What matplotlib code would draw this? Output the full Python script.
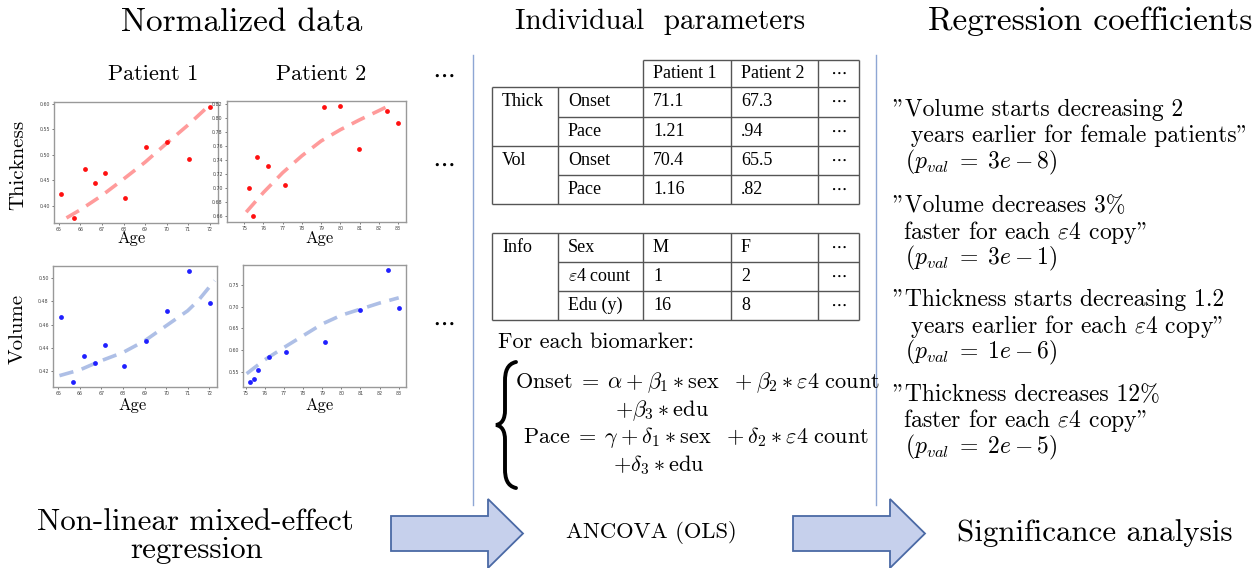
import matplotlib
matplotlib.use("Agg")
import matplotlib.pyplot as plt
from matplotlib.patches import FancyArrow, PathPatch
from matplotlib.path import Path

plt.rcParams['mathtext.fontset'] = 'cm'
plt.rcParams['axes.formatter.use_mathtext'] = True

# ---------------- data ----------------
age_p1 = [65.11, 65.68, 66.2, 66.68, 67.16, 68.05, 69.06, 70.04, 71.05, 72.03]
thick_p1 = [0.422, 0.376, 0.471, 0.445, 0.463, 0.414, 0.515, 0.525, 0.491, 0.593]
vol_p1 = [0.4663, 0.4108, 0.4330, 0.4272, 0.4422, 0.4243, 0.4456, 0.4721, 0.5060, 0.4784]

age_p2_thick = [75.24, 75.45, 75.64, 76.23, 77.14, 79.17, 79.97, 80.95, 82.43, 83.02]
thick_p2 = [0.700, 0.660, 0.744, 0.732, 0.705, 0.815, 0.817, 0.755, 0.810, 0.792]
age_p2_vol = [75.24, 75.43, 75.64, 76.22, 77.10, 79.17, 80.95, 82.43, 83.02]
vol_p2 = [0.5278, 0.5339, 0.5538, 0.5837, 0.596, 0.619, 0.691, 0.783, 0.697]

fit_age_thick_p1 = [65.35, 66.0, 67.0, 68.0, 69.0, 70.0, 71.0, 72.0]
fit_thick_p1 = [0.376, 0.392, 0.420, 0.452, 0.485, 0.522, 0.558, 0.597]
fit_age_thick_p2 = [75.1, 76.0, 77.0, 78.0, 79.0, 80.0, 81.0, 82.0, 82.75]
fit_thick_p2 = [0.666, 0.694, 0.722, 0.746, 0.767, 0.783, 0.797, 0.810, 0.820]
fit_age_vol_p1 = [65.05, 66.0, 67.0, 68.0, 69.0, 70.0, 71.0, 71.5, 72.25]
fit_vol_p1 = [0.416, 0.421, 0.429, 0.436, 0.446, 0.459, 0.472, 0.481, 0.498]
fit_age_vol_p2 = [75.05, 76.0, 77.0, 78.0, 79.0, 80.0, 81.0, 82.0, 83.0]
fit_vol_p2 = [0.546, 0.578, 0.606, 0.633, 0.660, 0.680, 0.694, 0.708, 0.720]

xticks_p1 = [65, 66, 67, 68, 69, 70, 71, 72]
xticks_p2 = [75, 76, 77, 78, 79, 80, 81, 82, 83]
yticks_thick_p1 = [0.40, 0.45, 0.50, 0.55, 0.60]
yticks_thick_p2 = [0.66, 0.68, 0.70, 0.72, 0.74, 0.76, 0.78, 0.80, 0.82]
yticks_vol_p1 = [0.42, 0.44, 0.46, 0.48, 0.50]
yticks_vol_p2 = [0.55, 0.60, 0.65, 0.70, 0.75]

patients = ["Patient 1", "Patient 2"]
param_rows = [("Thick", "Onset"), ("", "Pace"), ("Vol", "Onset"), ("", "Pace")]
param_vals = [["71.1", "67.3"], ["1.21", ".94"], ["70.4", "65.5"], ["1.16", ".82"]]
info_rows = [("Info", "Sex"), ("", r"$\varepsilon$4 count"), ("", "Edu (y)")]
info_vals = [["M", "F"], ["1", "2"], ["16", "8"]]

findings = [
    ['"Volume starts decreasing 2', ' years earlier for female patients"', r'$(p_{val}\;=\;3e-8)$'],
    ['"Volume decreases 3%', r'faster for each $\varepsilon 4$ copy"', r'$(p_{val}\;=\;3e-1)$'],
    ['"Thickness starts decreasing 1.2', r' years earlier for each $\varepsilon 4$ copy"', r'$(p_{val}\;=\;1e-6)$'],
    ['"Thickness decreases 12%', r'faster for each $\varepsilon 4$ copy"', r'$(p_{val}\;=\;2e-5)$'],
]

# ---------------- figure ----------------
W, H = 1260, 568
fig = plt.figure(figsize=(W / 100, H / 100), dpi=100)
ov = fig.add_axes([0, 0, 1, 1], zorder=0)
ov.set_xlim(0, W)
ov.set_ylim(H, 0)
ov.axis('off')

CM = ['cmr10', 'DejaVu Serif']
TM = ['Liberation Serif', 'DejaVu Serif']
BLUE_LINE = '#8ea6d4'

def box(x0, y0, x1, y1):
    return [x0 / W, 1 - y1 / H, (x1 - x0) / W, (y1 - y0) / H]

def small_plot(rect, x, y, fx, fy, col, fitcol, xl, yl, xt, yt):
    ax = fig.add_axes(box(*rect), zorder=2)
    ax.plot(fx, fy, ls=(0, (4, 2.4)), lw=2.6, color=fitcol, zorder=1)
    ax.scatter(x, y, s=12, color=col, zorder=2, linewidths=0)
    ax.set_xlim(*xl)
    ax.set_ylim(*yl)
    ax.set_xticks(xt)
    ax.set_yticks(yt)
    ax.set_xticklabels([str(v) for v in xt])
    ax.set_yticklabels(["%.2f" % v for v in yt])
    ax.tick_params(labelsize=3.4, length=1.5, width=0.5, pad=1.5, colors='#444444')
    for s in ax.spines.values():
        s.set_color('#999999')
        s.set_linewidth(1.0)
    return ax

small_plot((54, 102, 218, 223), age_p1, thick_p1, fit_age_thick_p1, fit_thick_p1,
           '#ff1010', '#ff9b9b', (64.77, 72.39), (0.366, 0.603), xticks_p1, yticks_thick_p1)
small_plot((227, 101, 406, 222), age_p2_thick, thick_p2, fit_age_thick_p2, fit_thick_p2,
           '#ff1010', '#ff9b9b', (74.1, 83.42), (0.652, 0.8238), xticks_p2, yticks_thick_p2)
small_plot((53, 266, 217, 387), age_p1, vol_p1, fit_age_vol_p1, fit_vol_p1,
           '#2020ff', '#aebfe6', (64.75, 72.36), (0.4062, 0.5106), xticks_p1, yticks_vol_p1)
small_plot((243, 265, 406, 387), age_p2_vol, vol_p2, fit_age_vol_p2, fit_vol_p2,
           '#2020ff', '#aebfe6', (74.86, 83.38), (0.5155, 0.7952), xticks_p2, yticks_vol_p2)

# titles
ov.text(242, 22, "Normalized data", family=CM, fontsize=24, ha='center', va='center')
ov.text(660, 22, "Individual  parameters", family=CM, fontsize=21, ha='center', va='center')
ov.text(1090, 21, "Regression coefficients", family=CM, fontsize=24, ha='center', va='center')

# labels around small plots
ov.text(153, 74, patients[0], family=CM, fontsize=16, ha='center', va='center')
ov.text(321, 74, patients[1], family=CM, fontsize=16, ha='center', va='center')
for yy in (74, 163, 322):
    ov.text(443, yy, r"$\cdots$", fontsize=18, ha='center', va='center')
ov.text(18, 165, "Thickness", family=CM, fontsize=15, ha='center', va='center', rotation=90)
ov.text(18, 329, "Volume", family=CM, fontsize=15, ha='center', va='center', rotation=90)
for (xx, yy) in ((132, 238), (320, 238), (133, 405), (320, 405)):
    ov.text(xx, yy, "Age", family=CM, fontsize=12, ha='center', va='center')

# dividers
for xx in (473, 876):
    ov.plot([xx, xx], [55, 505], color=BLUE_LINE, lw=1.0)

# ---------------- tables ----------------
cx = [492, 558, 643, 731, 818, 859]
LC = '#555555'
LW = 1.0
def hl(y, x0, x1):
    ov.plot([x0, x1], [y, y], color=LC, lw=LW, solid_capstyle='butt')
def vl(x, y0, y1):
    ov.plot([x, x], [y0, y1], color=LC, lw=LW, solid_capstyle='butt')

# table 1
ty = [60, 87, 117, 146, 175, 204]
hl(ty[0], cx[2], cx[5])
hl(ty[1], cx[0], cx[5])
hl(ty[2], cx[1], cx[5])
hl(ty[3], cx[0], cx[5])
hl(ty[4], cx[1], cx[5])
hl(ty[5], cx[0], cx[5])
vl(cx[0], ty[1], ty[5]); vl(cx[1], ty[1], ty[5])
for x in cx[2:]:
    vl(x, ty[0], ty[5])
TFS = 13
for j, p in enumerate(patients):
    ov.text(cx[2 + j] + 10, (ty[0] + ty[1]) / 2, p, family=TM, fontsize=TFS, ha='left', va='center')
ov.text((cx[4] + cx[5]) / 2, (ty[0] + ty[1]) / 2 - 2, r"$\cdots$", fontsize=TFS, ha='center', va='center')
for i, (a, b) in enumerate(param_rows):
    yc = (ty[i + 1] + ty[i + 2]) / 2
    if a:
        ov.text(cx[0] + 10, yc, a, family=TM, fontsize=TFS, ha='left', va='center')
    ov.text(cx[1] + 10, yc, b, family=TM, fontsize=TFS, ha='left', va='center')
    for j, v in enumerate(param_vals[i]):
        ov.text(cx[2 + j] + 10, yc, v, family=TM, fontsize=TFS, ha='left', va='center')
    ov.text((cx[4] + cx[5]) / 2, yc - 2, r"$\cdots$", fontsize=TFS, ha='center', va='center')

# table 2
uy = [233, 262, 291, 320]
hl(uy[0], cx[0], cx[5]); hl(uy[3], cx[0], cx[5])
hl(uy[1], cx[1], cx[5]); hl(uy[2], cx[1], cx[5])
for x in cx:
    vl(x, uy[0], uy[3])
for i, (a, b) in enumerate(info_rows):
    yc = (uy[i] + uy[i + 1]) / 2
    if a:
        ov.text(cx[0] + 10, yc, a, family=TM, fontsize=TFS, ha='left', va='center')
    ov.text(cx[1] + 10, yc, b, family=TM, fontsize=TFS, ha='left', va='center')
    for j, v in enumerate(info_vals[i]):
        ov.text(cx[2 + j] + 10, yc, v, family=TM, fontsize=TFS, ha='left', va='center')
    ov.text((cx[4] + cx[5]) / 2, yc - 2, r"$\cdots$", fontsize=TFS, ha='center', va='center')

# ---------------- equations ----------------
EFS = 16
ov.text(498, 342, "For each biomarker:", family=CM, fontsize=EFS, ha='left', va='center')
ov.text(515, 383, r"$\mathrm{Onset}\;=\;\alpha + \beta_1 \ast \mathrm{sex}\ \ + \beta_2 \ast \varepsilon 4\ \mathrm{count}$",
        fontsize=EFS, ha='left', va='center')
ov.text(615, 411, r"$+\beta_3 \ast \mathrm{edu}$", fontsize=EFS, ha='left', va='center')
ov.text(523, 438, r"$\mathrm{Pace}\;=\;\gamma + \delta_1 \ast \mathrm{sex}\ \ + \delta_2 \ast \varepsilon 4\ \mathrm{count}$",
        fontsize=EFS, ha='left', va='center')
ov.text(613, 465, r"$+\delta_3 \ast \mathrm{edu}$", fontsize=EFS, ha='left', va='center')

verts = [(516, 362), (507, 364), (505, 372), (505, 381),
         (505, 410),
         (505, 419), (502, 424), (496, 425),
         (502, 426), (505, 431), (505, 440),
         (505, 469),
         (505, 478), (507, 486), (516, 488)]
codes = [Path.MOVETO, Path.CURVE4, Path.CURVE4, Path.CURVE4,
         Path.LINETO,
         Path.CURVE4, Path.CURVE4, Path.CURVE4,
         Path.CURVE4, Path.CURVE4, Path.CURVE4,
         Path.LINETO,
         Path.CURVE4, Path.CURVE4, Path.CURVE4]
ov.add_patch(PathPatch(Path(verts, codes), fill=False, lw=2.8, color='black', capstyle='round'))

# ---------------- findings ----------------
FFS = 17
starts = [110, 206, 300, 395]
for k, lines in enumerate(findings):
    y0 = starts[k]
    ov.text(893, y0, lines[0], family=CM, fontsize=FFS, ha='left', va='center')
    ov.text(903, y0 + 26, lines[1], family=CM, fontsize=FFS, ha='left', va='center')
    ov.text(905, y0 + 52, lines[2], fontsize=FFS, ha='left', va='center')

# ---------------- bottom row ----------------
ov.text(195, 522, "Non-linear mixed-effect", family=CM, fontsize=22.3, ha='center', va='center')
ov.text(197, 550, "regression", family=CM, fontsize=22.3, ha='center', va='center')
ov.text(651, 533, "ANCOVA (OLS)", family=CM, fontsize=16.3, ha='center', va='center')
ov.text(1095, 533, "Significance analysis", family=CM, fontsize=22.3, ha='center', va='center')

for x0 in (391, 793):
    ov.add_patch(FancyArrow(x0, 533.5, 132, 0, width=35, head_width=69, head_length=35,
                            length_includes_head=True, facecolor='#c6d0ec',
                            edgecolor='#4a69a5', lw=1.3))

fig.savefig("out.png", dpi=100)
